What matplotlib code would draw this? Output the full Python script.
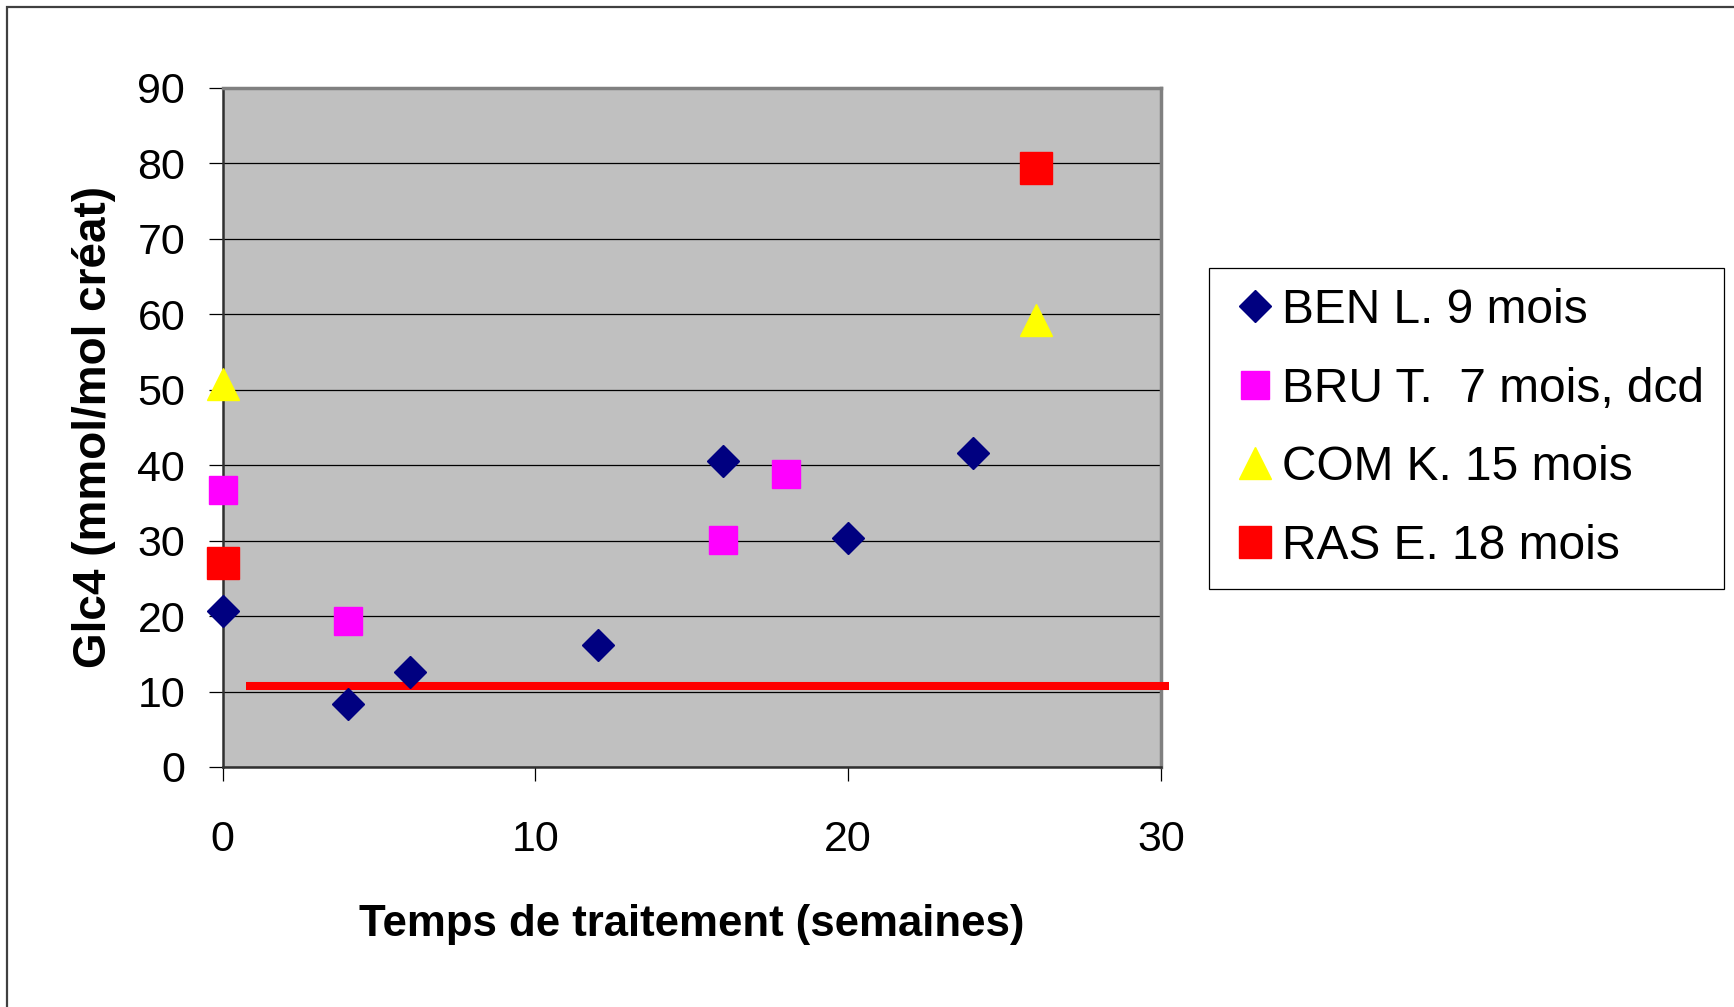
import matplotlib
matplotlib.use("Agg")
import matplotlib.pyplot as plt
from matplotlib.patches import Rectangle

plt.rcParams['font.family'] = ['Liberation Sans', 'DejaVu Sans']

# Glc4 urinaire en fonction du temps de traitement
ben_x = [0, 4, 6, 12, 16, 20, 24]
ben_y = [20.7, 8.4, 12.6, 16.2, 40.5, 30.3, 41.6]
bru_x = [0, 4, 16, 18]
bru_y = [36.7, 19.4, 30.1, 38.8]
com_x = [0, 26]
com_y = [50.8, 59.3]
ras_x = [0, 26]
ras_y = [27.0, 79.4]

# seuil normal
seuil_x = [0.75, 30.25]
seuil_y = 10.8

x_ticks = [0, 10, 20, 30]
y_ticks = [0, 10, 20, 30, 40, 50, 60, 70, 80, 90]

W, H = 1734, 1007
fig = plt.figure(figsize=(W / 100, H / 100), dpi=100)
ax = fig.add_axes([222.7 / W, 1 - 767 / H, (1161 - 222.7) / W, (767 - 88) / H])
ax.set_facecolor('#C0C0C0')

ax.set_xlim(0, 30)
ax.set_ylim(0, 90)
ax.set_xticks(x_ticks)
ax.set_yticks(y_ticks)
ax.yaxis.grid(True, color='black', lw=0.9)
ax.set_axisbelow(True)

ax.plot(seuil_x, [seuil_y, seuil_y], color='#FF0000', lw=5.8,
        solid_capstyle='butt', clip_on=False, zorder=3)

ax.plot(ben_x, ben_y, ls='none', marker='D', ms=16, color='#000080',
        mec='#000080', clip_on=False, zorder=4, label='BEN L. 9 mois')
ax.plot(bru_x, bru_y, ls='none', marker='s', ms=20, color='#FF00FF',
        mec='#FF00FF', clip_on=False, zorder=4, label='BRU T.  7 mois, dcd')
ax.plot(com_x, com_y, ls='none', marker='^', ms=23, color='#FFFF00',
        mec='#FFFF00', clip_on=False, zorder=4, label='COM K. 15 mois')
ax.plot(ras_x, ras_y, ls='none', marker='s', ms=23.5, color='#FF0000',
        mec='#FF0000', clip_on=False, zorder=4, label='RAS E. 18 mois')

for side in ['top', 'right']:
    ax.spines[side].set_color('#808080')
    ax.spines[side].set_linewidth(2.5)
for side in ['left', 'bottom']:
    ax.spines[side].set_color('#303030')
    ax.spines[side].set_linewidth(1.8)

ax.tick_params(axis='y', direction='out', length=10, width=0.9, pad=17,
               labelsize=31, colors='black')
ax.tick_params(axis='x', direction='out', length=10, width=0.9, pad=28,
               labelsize=31, colors='black')

ax.set_xlabel('Temps de traitement (semaines)', fontsize=31.5,
              fontweight='bold', labelpad=32)
ax.set_ylabel('Glc4 (mmol/mol créat)', fontsize=33, fontweight='bold',
              labelpad=15)

leg = ax.legend(loc='upper left', bbox_to_anchor=(1209 / W, 1 - 268 / H),
                bbox_transform=fig.transFigure, borderaxespad=0,
                fontsize=34.5, frameon=True, fancybox=False, framealpha=1,
                edgecolor='black', borderpad=0.42, labelspacing=0.7,
                handlelength=1.1, handletextpad=0.0)
leg.get_frame().set_linewidth(0.9)

# cadre de la zone graphique
fig.patches.append(Rectangle((7 / W, -0.2), 1.2, 1.2 - 7 / H,
                             transform=fig.transFigure, fill=False,
                             edgecolor='#404040', lw=1.6))

fig.savefig('out.png', dpi=100)
